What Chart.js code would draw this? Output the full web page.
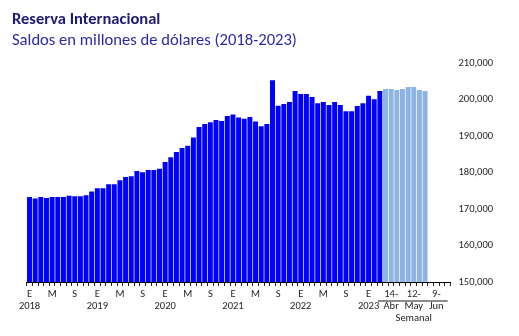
<!DOCTYPE html>
<html>
<head>
<meta charset="utf-8">
<script src="https://cdn.jsdelivr.net/npm/chart.js@4"></script>
<style>
  body { margin: 0; background: #fff; }
  #wrap { position: relative; width: 519px; height: 336px; }
  #title, #subtitle { position: absolute; left: 12px; font-family: Carlito, Lato, sans-serif; white-space: nowrap; }
  #title { top: 8px; font-size: 16.5px; font-weight: bold; color: #1b1b78; }
  #subtitle { top: 29px; font-size: 16.6px; color: #2a2aa8; }
  canvas { position: absolute; left: 0; top: 0; }
</style>
</head>
<body>
<div id="wrap">
  <canvas id="chart" width="519" height="336"></canvas>
  <div id="title">Reserva Internacional</div>
  <div id="subtitle">Saldos en millones de dólares (2018-2023)</div>
</div>
<script>
// monthly balances Jan 2018 - Mar 2023, then weekly figures
const years = ['2018', '2019', '2020', '2021', '2022', '2023'];
const monthInitials = ['E', 'F', 'M', 'A', 'M', 'J', 'J', 'A', 'S', 'O', 'N', 'D'];
const shownMonths = [0, 4, 8];

const monthly = [
  173300, 172900, 173300, 173000, 173300, 173300, 173300, 173600, 173500, 173500, 173800, 174800,
  175700, 175700, 176800, 176800, 177900, 178800, 179000, 180400, 180100, 180700, 180700, 181000,
  182900, 184200, 185600, 186700, 187300, 189600, 192500, 193300, 193800, 194400, 194100, 195500,
  195900, 195100, 194700, 195200, 194000, 192700, 193300, 205300, 198300, 198800, 199300, 202300,
  201500, 201500, 200700, 199000, 199300, 198500, 199300, 198500, 196800, 196800, 198200, 199000,
  201000, 200100, 202300,
];

const weeks = ['7-Abr', '14-Abr', '21-Abr', '28-Abr', '5-May', '12-May', '19-May', '26-May',
  '2-Jun', '9-Jun', '16-Jun', '23-Jun'];
const weekly = [202900, 202900, 202600, 202900, 203400, 203400, 202600, 202300, null, null, null, null];
const shownWeeks = [1, 5, 9];
const weekGroupLabel = 'Semanal';

const yTicks = { min: 150000, max: 210000, step: 10000 };

const labels = [];
monthly.forEach((v, i) => labels.push(monthInitials[i % 12] + ' ' + years[Math.floor(i / 12)]));
weeks.forEach((w) => labels.push(w));

const nM = monthly.length;
const dark = monthly.concat(weeks.map(() => null));
const light = monthly.map(() => null).concat(weekly);

function tickLabel(i) {
  if (i < nM) {
    const m = i % 12;
    if (!shownMonths.includes(m)) return '';
    return m === 0 ? [monthInitials[m], years[Math.floor(i / 12)]] : monthInitials[m];
  }
  const j = i - nM;
  if (!shownWeeks.includes(j)) return '';
  const [d, mon] = weeks[j].split('-');
  const out = [d + '-', mon];
  if (j === 5) out.push(weekGroupLabel);
  return out;
}

const groupLine = {
  id: 'groupLine',
  afterDraw(c) {
    const x = c.scales.x;
    const ctx = c.ctx;
    ctx.save();
    ctx.strokeStyle = '#666';
    ctx.lineWidth = 1.5;
    ctx.beginPath();
    const y = c.chartArea.bottom + 19;
    ctx.moveTo(x.getPixelForValue(nM - 1) - 2, y);
    ctx.lineTo(x.getPixelForValue(labels.length - 1), y);
    ctx.stroke();
    ctx.restore();
  },
};

const font = { family: 'Carlito, Lato, sans-serif', size: 10.5, lineHeight: 1.15 };

new Chart(document.getElementById('chart'), {
  type: 'bar',
  data: {
    labels,
    datasets: [
      { data: dark, backgroundColor: '#0000ff', barPercentage: 0.88, categoryPercentage: 1, grouped: false },
      { data: light, backgroundColor: '#8db4e2', barPercentage: 0.88, categoryPercentage: 1, grouped: false },
    ],
  },
  options: {
    responsive: false,
    animation: false,
    layout: { padding: { left: 26.7, top: 63, right: 0, bottom: 0 } },
    plugins: { legend: { display: false }, tooltip: { enabled: false } },
    scales: {
      x: {
        grid: { display: true, drawOnChartArea: false, color: '#222', tickLength: 4 },
        border: { display: true, color: '#000', width: 1 },
        ticks: {
          autoSkip: false,
          maxRotation: 0,
          minRotation: 0,
          padding: 2,
          color: '#262626',
          font,
          callback: (v, i) => tickLabel(i),
        },
        afterFit: (s) => { s.height = 54; },
      },
      y: {
        position: 'right',
        min: yTicks.min,
        max: yTicks.max,
        grid: { display: false, drawTicks: false },
        border: { display: false },
        ticks: {
          stepSize: yTicks.step,
          padding: 8,
          color: '#262626',
          font,
          callback: (v) => v.toLocaleString('en-US'),
        },
        afterFit: (s) => { s.width = 68.5; },
      },
    },
  },
  plugins: [groupLine],
});
</script>
</body>
</html>
